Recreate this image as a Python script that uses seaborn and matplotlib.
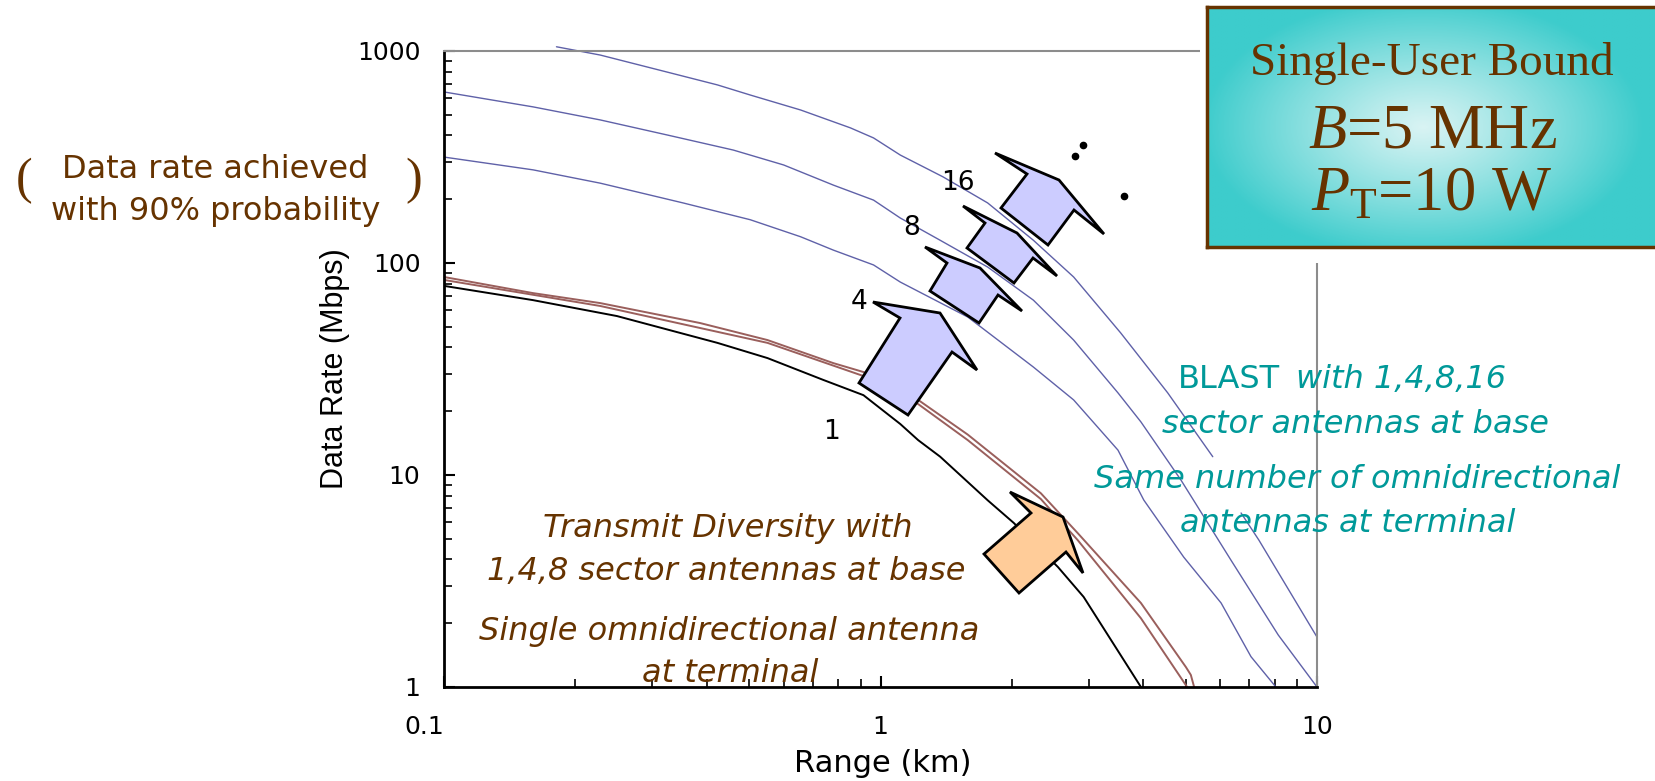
import numpy as np
import pandas as pd
import matplotlib
matplotlib.use("Agg")
import matplotlib.pyplot as plt
import matplotlib.ticker as mticker
from matplotlib.patches import Polygon, Rectangle
from matplotlib.lines import Line2D
import seaborn as sns

sns.set_theme(style="white")
plt.rcParams["font.family"] = ["DejaVu Sans"]
plt.rcParams["mathtext.fontset"] = "custom"
plt.rcParams["mathtext.rm"] = "Liberation Serif"
plt.rcParams["mathtext.it"] = "Liberation Serif:italic"

# data (range in km, rate in Mbps)
range_1 = [0.1, 0.16, 0.249, 0.423, 0.551, 0.739, 0.914, 1.11, 1.22, 1.37, 1.76, 2.02, 2.55, 2.92, 3.95]
rate_1 = [78, 66.8, 56.2, 42.0, 35.6, 28.1, 23.8, 17.4, 14.6, 12.2, 7.6, 5.94, 3.68, 2.66, 1.0]

range_td8 = [0.1, 0.16, 0.228, 0.386, 0.551, 0.78, 0.914, 1.22, 1.585, 2.33, 2.83, 3.95, 5.01, 5.14, 5.23]
rate_td8 = [85.9, 72.1, 64.7, 52.1, 43.3, 33.7, 30.6, 22.6, 15.5, 8.2, 5.32, 2.49, 1.24, 1.14, 1.0]

range_td4 = [0.1, 0.228, 0.551, 0.914, 1.22, 1.585, 2.33, 2.83, 3.95, 5.04]
rate_td4 = [83.2, 62.7, 42.0, 29.3, 21.6, 14.6, 7.7, 4.93, 2.11, 1.0]

range_4 = [0.1, 0.16, 0.228, 0.353, 0.503, 0.656, 0.78, 0.964, 1.11, 1.585, 2.24, 2.77, 3.50, 4.01, 4.95, 6.03, 7.06, 8.05]
rate_4 = [316, 275, 238, 192, 160, 133, 115, 97.9, 81.3, 55.6, 32.3, 22.6, 13.1, 7.62, 4.10, 2.49, 1.39, 1.0]

range_8 = [0.1, 0.16, 0.228, 0.324, 0.46, 0.60, 0.78, 0.964, 1.11, 1.37, 1.76, 2.24, 2.77, 3.50, 3.95, 4.88, 6.35, 8.15, 10.0]
rate_8 = [641, 545, 473, 402, 341, 290, 233, 198, 163, 128, 95.7, 66.8, 43.3, 24.4, 17.8, 9.46, 3.97, 1.76, 1.0]

# top curve is hidden behind the BLAST text for a short stretch
range_16a = [0.181, 0.228, 0.324, 0.423, 0.503, 0.656, 0.853, 0.964, 1.11, 1.39, 1.76, 2.24, 2.77, 3.55, 4.55, 5.77]
rate_16a = [1047, 957, 796, 692, 620, 527, 434, 389, 323, 255, 192, 128, 85.9, 46.8, 24.4, 12.2]
range_16b = [6.70, 7.36, 10.0]
rate_16b = [6.62, 4.93, 1.72]

x_ticks = [0.1, 1, 10]
y_ticks = [1, 10, 100, 1000]

BLACK = "#000000"
BROWN_LINE = "#9a5f5c"
BLUE_LINE = "#5f61a8"
BROWN = "#663300"
TEAL = "#009999"

W, H = 1655, 781


def fxy(x, y):
    return x / W, 1 - y / H


fig = plt.figure(figsize=(W / 100, H / 100), dpi=100)
ax = fig.add_axes([444 / W, 1 - 687 / H, 873 / W, 636 / H])
ax.set_xscale("log")
ax.set_yscale("log")

curves = [
    (range_1, rate_1, BLACK, 1.4, True),
    (range_td4, rate_td4, BROWN_LINE, 1.4, True),
    (range_td8, rate_td8, BROWN_LINE, 1.4, True),
    (range_4, rate_4, BLUE_LINE, 1.0, True),
    (range_8, rate_8, BLUE_LINE, 1.0, True),
    (range_16a, rate_16a, BLUE_LINE, 1.0, False),
    (range_16b, rate_16b, BLUE_LINE, 1.0, True),
]
for xs, ys, col, lw, clip in curves:
    df = pd.DataFrame({"range": xs, "rate": ys})
    sns.lineplot(data=df, x="range", y="rate", ax=ax, color=col, linewidth=lw,
                 sort=False, estimator=None, clip_on=clip)

ax.set_xlim(0.1, 10)
ax.set_ylim(1, 1000)
ax.grid(False)
ax.xaxis.set_major_locator(mticker.FixedLocator(x_ticks))
ax.yaxis.set_major_locator(mticker.FixedLocator(y_ticks))
ax.xaxis.set_minor_locator(mticker.LogLocator(base=10, subs=range(2, 10)))
ax.yaxis.set_minor_locator(mticker.LogLocator(base=10, subs=range(2, 10)))
fmt = mticker.FuncFormatter(lambda v, _: f"{v:g}")
ax.xaxis.set_major_formatter(fmt)
ax.yaxis.set_major_formatter(fmt)
ax.xaxis.set_minor_formatter(mticker.NullFormatter())
ax.yaxis.set_minor_formatter(mticker.NullFormatter())
ax.tick_params(which="both", direction="in", left=True, bottom=True, top=False, right=False, colors="black")
ax.tick_params(which="major", length=8, width=1.5, labelsize=18)
ax.tick_params(which="minor", length=6, width=1.2)
ax.tick_params(axis="y", which="major", pad=17)
ax.tick_params(axis="x", which="major", pad=20)
ax.get_xticklabels()[0].set_horizontalalignment("right")

for s in ["left", "bottom"]:
    ax.spines[s].set_color("black")
    ax.spines[s].set_linewidth(2)
for s in ["top", "right"]:
    ax.spines[s].set_color("#8c8c8c")
    ax.spines[s].set_linewidth(1.5)

ax.set_xlabel("Range (km)", fontsize=22, color="black")
ax.xaxis.set_label_coords(0.503, -0.0975)
ax.set_ylabel("Data Rate (Mbps)", fontsize=22, color="black", family=["Liberation Sans"])
ax.yaxis.set_label_coords(-0.108, 0.5)

# white cover behind the parameter box
fig.add_artist(Rectangle(fxy(1200, 263), (W - 1200) / W, 263 / H, transform=fig.transFigure,
                         facecolor="white", edgecolor="none", zorder=2))

# parameter box with radial gradient
bx = fig.add_axes([1207 / W, 1 - 247 / H, 460 / W, 240 / H])
bx.set_zorder(3)
gy, gx = np.mgrid[0:1:200j, 0:1:300j]
t = np.clip(np.hypot((gx - 0.47) / 0.48, (gy - 0.5) / 0.55), 0, 1) ** 1.1
c_in = np.array([0.85, 0.955, 0.955])
c_out = np.array([0.24, 0.80, 0.80])
img = c_in[None, None, :] * (1 - t[..., None]) + c_out[None, None, :] * t[..., None]
bx.imshow(img, extent=[0, 1, 0, 1], aspect="auto", origin="lower")
bx.set_xlim(0, 1)
bx.set_ylim(0, 1)
bx.set_xticks([])
bx.set_yticks([])
for s in bx.spines.values():
    s.set_color(BROWN)
    s.set_linewidth(2.5)

serif = ["Liberation Serif", "DejaVu Serif"]
fig.text(*fxy(1432, 75), "Single-User Bound", ha="center", va="baseline", fontsize=34,
         color=BROWN, family=serif, zorder=6)
fig.text(*fxy(1432, 148), r"$B$=5 MHz", ha="center", va="baseline", fontsize=45,
         color=BROWN, family=serif, zorder=6)
fig.text(*fxy(1431, 210), r"$P_\mathrm{T}$=10 W", ha="center", va="baseline", fontsize=45,
         color=BROWN, family=serif, zorder=6)

# block arrows
arrows = [
    ([(859, 383), (900, 318), (873, 302), (940, 313), (977, 370), (952, 352), (908, 415)], "#ccccff"),
    ([(930, 291), (947, 263), (925, 247), (980, 268), (1022, 311), (998, 295), (979, 323)], "#ccccff"),
    ([(967, 248), (985, 223), (963, 206), (1017, 233), (1057, 276), (1033, 258), (1014, 283)], "#ccccff"),
    ([(1001, 208), (1027, 174), (995, 153), (1059, 180), (1104, 234), (1074, 210), (1048, 245)], "#ccccff"),
    ([(984, 554), (1031, 513), (1010, 492), (1063, 517), (1083, 573), (1066, 552), (1019, 593)], "#ffcc99"),
]
for pts, fc in arrows:
    fig.add_artist(Polygon([fxy(x, y) for x, y in pts], closed=True, transform=fig.transFigure,
                           facecolor=fc, edgecolor="black", linewidth=2, joinstyle="miter", zorder=4))

dots = [(1075, 156), (1083, 145), (1124, 196)]
fig.add_artist(Line2D([fxy(x, y)[0] for x, y in dots], [fxy(x, y)[1] for x, y in dots],
                      transform=fig.transFigure, linestyle="none", marker="o", markersize=4.5,
                      color="black", zorder=4))

# curve labels
for txt, x, y in [("16", 958, 183), ("8", 912, 228), ("4", 859, 302), ("1", 831, 432)]:
    fig.text(*fxy(x, y), txt, ha="center", va="center", fontsize=19, color="black", zorder=5)

# left annotation
fig.text(*fxy(215, 178), "Data rate achieved", ha="center", va="baseline", fontsize=23, color=BROWN)
fig.text(*fxy(216, 220), "with 90% probability", ha="center", va="baseline", fontsize=23, color=BROWN)
fig.text(*fxy(24, 181), "(", ha="center", va="center", fontsize=36, color=BROWN, family=serif)
fig.text(*fxy(414, 181), ")", ha="center", va="center", fontsize=36, color=BROWN, family=serif)

# transmit diversity text
for txt, x, y in [("Transmit Diversity with", 728, 537), ("1,4,8 sector antennas at base", 726, 580),
                  ("Single omnidirectional antenna", 729, 640), ("at terminal", 730, 682)]:
    fig.text(*fxy(x, y), txt, ha="center", va="baseline", fontsize=23, style="italic",
             color=BROWN, zorder=5)

# BLAST text
fig.text(*fxy(1280, 388), "BLAST", ha="right", va="baseline", fontsize=23, color=TEAL, zorder=5)
fig.text(*fxy(1296, 388), "with 1,4,8,16", ha="left", va="baseline", fontsize=23, style="italic",
         color=TEAL, zorder=5)
for txt, x, y in [("sector antennas at base", 1355, 433), ("Same number of omnidirectional", 1357, 488),
                  ("antennas at terminal", 1348, 532)]:
    fig.text(*fxy(x, y), txt, ha="center", va="baseline", fontsize=23, style="italic",
             color=TEAL, zorder=5)

fig.savefig("out.png", dpi=100, facecolor="white")
